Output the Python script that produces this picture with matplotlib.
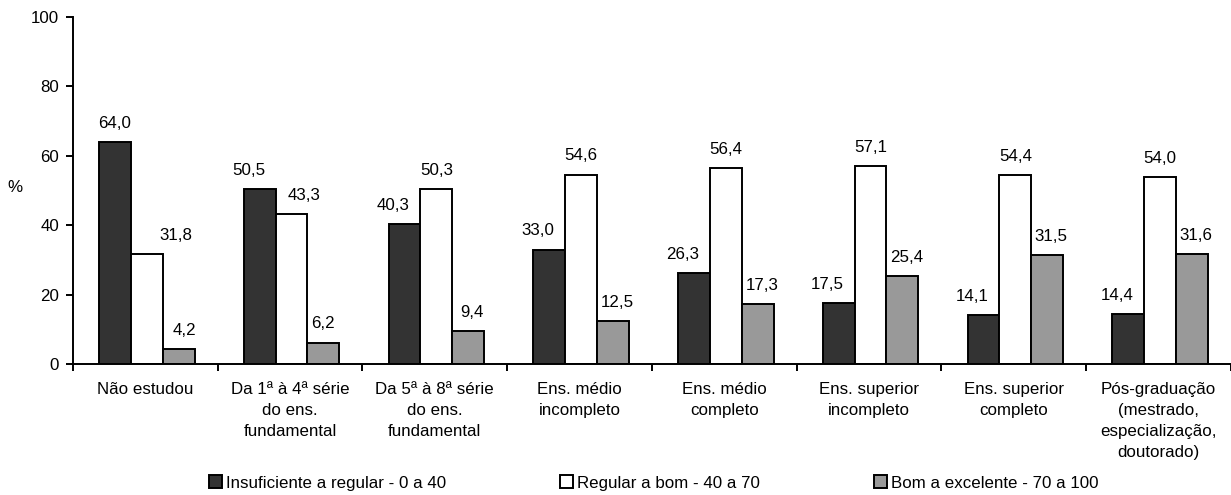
import numpy as np
import matplotlib
matplotlib.use("Agg")
import matplotlib.pyplot as plt
from matplotlib.patches import Patch

plt.rcParams['font.family'] = ['Liberation Sans', 'DejaVu Sans']

categories = [
    "Não estudou",
    "Da 1ª à 4ª série\ndo ens.\nfundamental",
    "Da 5ª à 8ª série\ndo ens.\nfundamental",
    "Ens. médio\nincompleto",
    "Ens. médio\ncompleto",
    "Ens. superior\nincompleto",
    "Ens. superior\ncompleto",
    "Pós-graduação\n(mestrado,\nespecialização,\ndoutorado)",
]
insuficiente = [64.0, 50.5, 40.3, 33.0, 26.3, 17.5, 14.1, 14.4]
regular = [31.8, 43.3, 50.3, 54.6, 56.4, 57.1, 54.4, 54.0]
bom = [4.2, 6.2, 9.4, 12.5, 17.3, 25.4, 31.5, 31.6]
series_names = [
    "Insuficiente a regular - 0 a 40",
    "Regular a bom - 40 a 70",
    "Bom a excelente - 70 a 100",
]
yticks = [0, 20, 40, 60, 80, 100]

colors = ["#333333", "#ffffff", "#999999"]
FS = 12.2

# horizontal nudges (points) for value labels, keeping neighbours apart
nudge = [
    [0, -8, -8, -8, -8, -8, -8, -8],
    [21, 9, 0, 0, 0, 0, 0, 0],
    [4, 0, 3, 3, 3, 3, 3, 3],
]

fig = plt.figure(figsize=(12.31, 4.95), dpi=100)
ax = fig.add_axes([0.0593, 0.2646, 0.9407, 0.701])

x = np.arange(len(categories))
w = 0.22
for i, (vals, col) in enumerate(zip([insuficiente, regular, bom], colors)):
    pos = x + (i - 1) * w + 0.01
    bars = ax.bar(pos, vals, width=w, color=col, edgecolor="black", linewidth=1.4)
    for j, (b, v) in enumerate(zip(bars, vals)):
        ax.annotate(f"{v:.1f}".replace(".", ","),
                    (b.get_x() + b.get_width() / 2, v),
                    xytext=(nudge[i][j], 8), textcoords="offset points",
                    ha="center", va="bottom", fontsize=FS)

ax.set_xlim(-0.5, len(categories) - 0.5)
ax.set_ylim(0, 100)
ax.set_yticks(yticks)
ax.set_yticklabels([str(t) for t in yticks], fontsize=FS)
ax.set_xticks(x)
ax.set_xticklabels(categories, fontsize=FS, linespacing=1.5)
ax.tick_params(axis="x", which="major", length=0, pad=13)
ax.set_xticks(np.arange(-0.5, len(categories) + 0.5, 1.0), minor=True)
ax.tick_params(axis="x", which="minor", length=5, width=1.4, direction="out")
ax.tick_params(axis="y", length=5, width=1.4, direction="out", pad=5)

for s in ["top", "right"]:
    ax.spines[s].set_visible(False)
for s in ["left", "bottom"]:
    ax.spines[s].set_linewidth(1.4)

fig.text(0.0125, 0.622, "%", fontsize=FS, ha="center", va="center")

handles = [Patch(facecolor=c, edgecolor="black", linewidth=1.4) for c in colors]
fig.legend(handles, series_names, loc="center", bbox_to_anchor=(0.531, 0.024),
           ncol=3, frameon=False, fontsize=FS, handlelength=0.78, handleheight=0.78,
           handletextpad=0.25, columnspacing=6.7, borderpad=0)

fig.savefig("out.png", dpi=100)
